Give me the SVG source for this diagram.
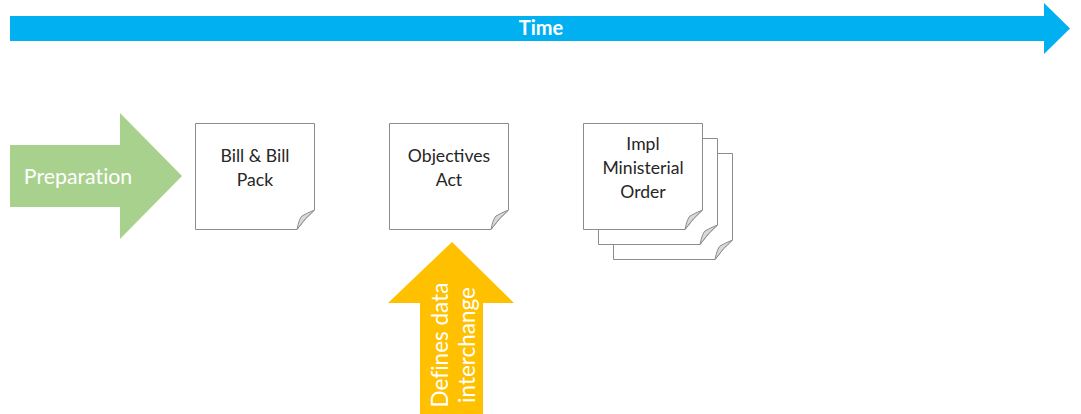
<svg xmlns="http://www.w3.org/2000/svg" width="1081" height="414" viewBox="0 0 1081 414">
  <style>
    .lbl { font-family: Lato, "Open Sans", "Liberation Sans", sans-serif; fill: #262626; font-size: 17.6px; text-anchor: middle; }
    .wlbl { font-family: Lato, "Open Sans", "Liberation Sans", sans-serif; fill: #ffffff; font-variant-ligatures: none; }
    .note { fill: #ffffff; stroke: #8c8c8c; stroke-width: 1; }
    .flap { fill: #d9d9d9; stroke: #8c8c8c; stroke-width: 1; }
  </style>
  <defs>
    <g id="notebox">
      <path class="note" d="M0.5,0.5 H119.5 V87 Q110,95 102,106.5 H0.5 Z"/>
      <path class="flap" d="M102,106.5 Q104,96 107,93 Q112,90 119.5,87 Q110,95 102,106.5 Z"/>
    </g>
  </defs>
  <rect width="1081" height="414" fill="#ffffff"/>

  <g id="time">
    <path d="M10,16 H1044 V3 L1070,28.5 L1044,54 V41 H10 Z" fill="#00b0f0"/>
    <text class="wlbl" x="541" y="35" font-size="20" font-weight="bold" text-anchor="middle">Time</text>
  </g>

  <g id="preparation">
    <path d="M10,145 H120 V113 L182,176 L120,239 V207 H10 Z" fill="#a9d18e"/>
    <text class="wlbl" x="78" y="184" font-size="21.3" text-anchor="middle">Preparation</text>
  </g>

  <g id="bill">
    <use href="#notebox" x="195" y="123"/>
    <text class="lbl" x="255" y="162">Bill &amp; Bill</text>
    <text class="lbl" x="255" y="186">Pack</text>
  </g>

  <g id="objectives">
    <use href="#notebox" x="389" y="123"/>
    <text class="lbl" x="449" y="162">Objectives</text>
    <text class="lbl" x="449" y="186">Act</text>
  </g>

  <g id="impl">
    <use href="#notebox" x="613" y="153"/>
    <use href="#notebox" x="598" y="138"/>
    <use href="#notebox" x="583" y="123"/>
    <text class="lbl" x="643" y="150">Impl</text>
    <text class="lbl" x="643" y="174">Ministerial</text>
    <text class="lbl" x="643" y="198">Order</text>
  </g>

  <g id="defines">
    <path d="M420,414 V303 H388 L452,242 L514,303 H483 V414 Z" fill="#ffc000"/>
    <g transform="translate(453,345) rotate(-90)">
      <text class="wlbl" x="0" y="-5" font-size="22.5" text-anchor="middle">Defines data</text>
      <text class="wlbl" x="0" y="22" font-size="22.5" text-anchor="middle">interchange</text>
    </g>
  </g>

  <g id="connectors"></g>
</svg>
